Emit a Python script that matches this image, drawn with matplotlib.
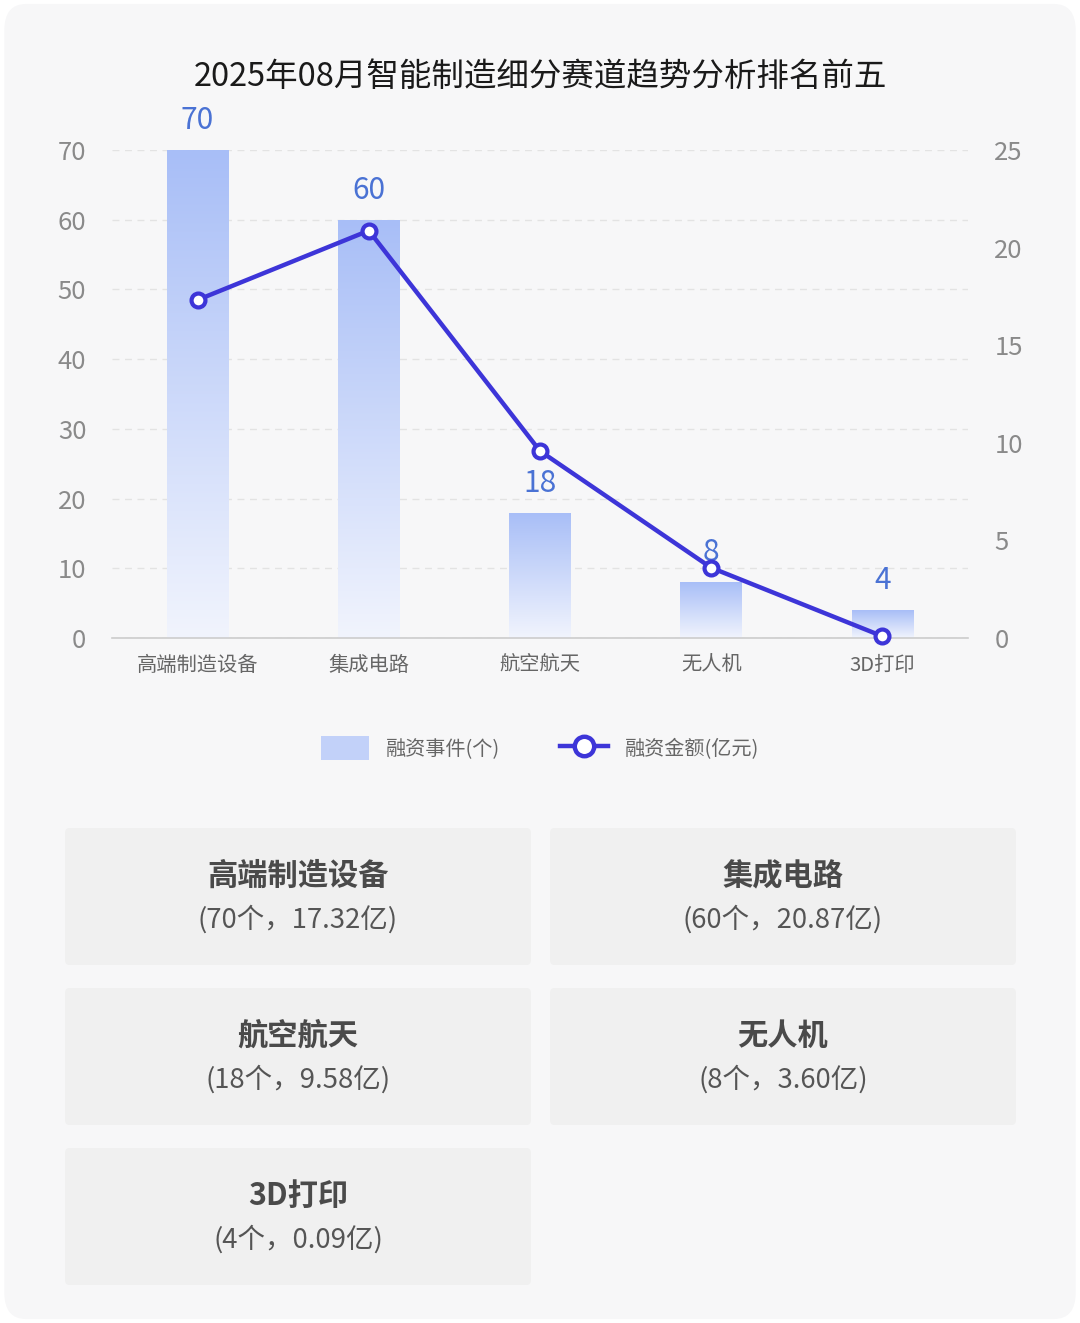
import matplotlib
matplotlib.use("Agg")
import matplotlib.pyplot as plt
import numpy as np
from matplotlib.colors import LinearSegmentedColormap
from matplotlib.patches import FancyBboxPatch, Patch
from matplotlib.lines import Line2D

plt.rcParams['font.family'] = ['Noto Sans CJK SC', 'DejaVu Sans']

# data
title = "2025年08月智能制造细分赛道趋势分析排名前五"
categories = ["高端制造设备", "集成电路", "航空航天", "无人机", "3D打印"]
events = [70, 60, 18, 8, 4]                       # 融资事件(个)
amounts = [17.32, 20.87, 9.58, 3.60, 0.09]        # 融资金额(亿元)
left_ticks = [0, 10, 20, 30, 40, 50, 60, 70]
right_ticks = [0, 5, 10, 15, 20, 25]

W, H = 1080, 1323
fig = plt.figure(figsize=(W / 100, H / 100), dpi=100)
fig.patch.set_facecolor("white")
fig.patches.append(FancyBboxPatch((0.004, 0.003), 0.992, 0.994,
                                  boxstyle="round,pad=0,rounding_size=0.02",
                                  transform=fig.transFigure, facecolor="#f7f7f8",
                                  edgecolor="none", zorder=-1))

def fx(px):
    return px / W

def fy(py):
    return 1 - py / H

ax = fig.add_axes([fx(112), fy(638), fx(968) - fx(112), fy(150) - fy(638)])
ax.set_facecolor("none")
x = np.arange(len(categories))

grad_cmap = LinearSegmentedColormap.from_list("g", ["#f1f4fd", "#a8bef7"])
bars = ax.bar(x, events, width=0.36, color="none", edgecolor="none", zorder=2)
grad = np.linspace(0, 1, 256).reshape(-1, 1)
for b in bars:
    h = b.get_height()
    im = ax.imshow(grad, cmap=grad_cmap, origin="lower", aspect="auto",
                   extent=[b.get_x(), b.get_x() + b.get_width(), 0, h],
                   zorder=2, interpolation="bilinear")
    im.set_clip_path(b)
for xi, v in zip(x, events):
    ax.text(xi, v + 2.0, str(v), ha="center", va="bottom", fontsize=21.5,
            color="#4a72d4", zorder=5)

ax.set_xlim(-0.5, len(categories) - 0.5)
ax.set_ylim(0, 70)
ax.set_yticks(left_ticks)
ax.set_xticks(x)
ax.set_xticklabels(categories, fontsize=14.6, color="#666666")
ax.tick_params(axis="x", length=0, pad=12)
ax.tick_params(axis="y", length=0, pad=18.5, labelsize=18.5, labelcolor="#8a8a8a")
ax.yaxis.grid(True, linestyle=(0, (5, 4)), color="#e3e3e3", linewidth=1)
ax.set_axisbelow(True)
for s in ["top", "right", "left"]:
    ax.spines[s].set_visible(False)
ax.spines["bottom"].set_color("#cccccc")
ax.spines["bottom"].set_linewidth(1.2)

ax2 = ax.twinx()
ax2.set_ylim(0, 25)
ax2.set_yticks(right_ticks)
ax2.tick_params(axis="y", length=0, pad=19, labelsize=18.5, labelcolor="#8a8a8a")
for s in ax2.spines.values():
    s.set_visible(False)
line_color = "#3d35d8"
ax2.plot(x, amounts, color=line_color, linewidth=3.2, marker="o", markersize=10,
         markerfacecolor="white", markeredgecolor=line_color, markeredgewidth=3,
         zorder=4, clip_on=False)

fig.text(0.5, fy(77), title, ha="center", va="center", fontsize=23.4,
         fontweight="medium", color="#1a1a1a")

handles = [Patch(facecolor="#c2d1f9", edgecolor="none"),
           Line2D([], [], color=line_color, linewidth=3.2, marker="o", markersize=14,
                  markerfacecolor="white", markeredgecolor=line_color,
                  markeredgewidth=3.2)]
fig.legend(handles, ["融资事件(个)", "融资金额(亿元)"], loc="center",
           bbox_to_anchor=(0.5, fy(748)), ncol=2, frameon=False, fontsize=14.5,
           labelcolor="#666666", handlelength=2.4, handleheight=1.4,
           columnspacing=3.0, handletextpad=0.8)

# summary cards
cards = [(65, 828), (550, 828), (65, 988), (550, 988), (65, 1148)]
cw, ch = 466, 137
for (cx, cy), cat, e, a in zip(cards, categories, events, amounts):
    fig.patches.append(FancyBboxPatch((fx(cx), fy(cy + ch)), fx(cw), ch / H,
                                      boxstyle="round,pad=0,rounding_size=0.004",
                                      transform=fig.transFigure,
                                      facecolor="#f0f0f0", edgecolor="none",
                                      zorder=1))
    fig.text(fx(cx + cw / 2), fy(cy + 48), cat, ha="center", va="center",
             fontsize=21.8, fontweight="bold", color="#4a4a4a")
    fig.text(fx(cx + cw / 2), fy(cy + 91), f"({e}个，{a:.2f}亿)", ha="center",
             va="center", fontsize=19.8, color="#555555")

fig.savefig("out.png", dpi=100, facecolor=fig.get_facecolor())
